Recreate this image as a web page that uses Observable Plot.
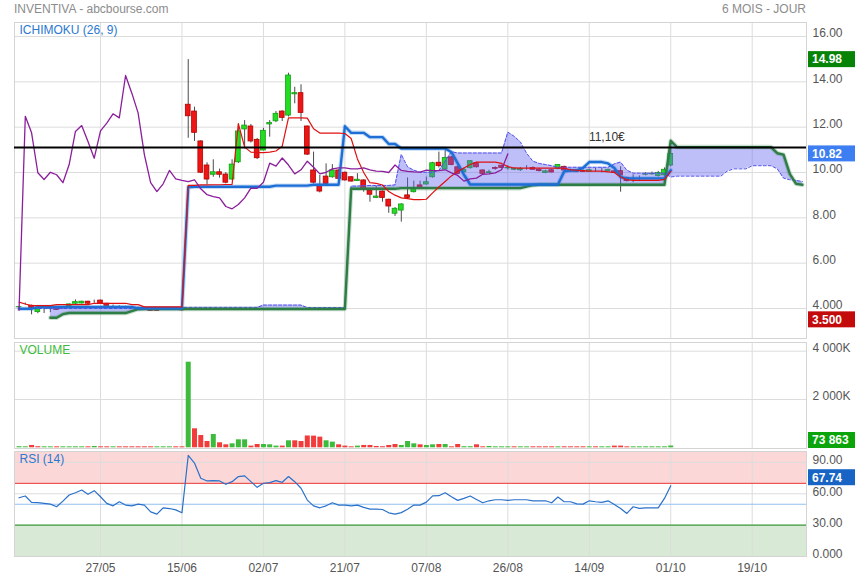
<!DOCTYPE html>
<html>
<head>
<meta charset="utf-8">
<script src="https://cdn.jsdelivr.net/npm/d3@7"></script>
<script src="https://cdn.jsdelivr.net/npm/@observablehq/plot@0.6"></script>
<style>
  html, body { margin: 0; padding: 0; background: #fff; }
  #chart { position: relative; width: 855px; height: 580px; overflow: hidden; font-family: Arial, "Liberation Sans", sans-serif; }
  .hdr { position: absolute; top: 2px; font-size: 12px; color: #8c8c8c; line-height: 14px; white-space: nowrap; }
</style>
</head>
<body>
<div id="chart"></div>
<script>
// ---------------- DATA ----------------
const titleText = "INVENTIVA - abcbourse.com";
const periodText = "6 MOIS - JOUR";

const xTickIdx = [13, 26, 39, 52, 65, 78, 91, 104, 117];
const xTickLabels = ["27/05", "15/06", "02/07", "21/07", "07/08", "26/08", "14/09", "01/10", "19/10"];

const priceTicks = [16, 14, 12, 10, 8, 6, 4];
const priceTickLabels = ["16.00", "14.00", "12.00", "10.00", "8.00", "6.00", "4.000"];
const volumeTicks = [4000, 2000];
const volumeTickLabels = ["4 000K", "2 000K"];
const rsiTicks = [90, 60, 30, 0];
const rsiTickLabels = ["90.00", "60.00", "30.00", "0.000"];

const open = [
  4.05,4.20,4.12,3.84,3.97,3.98,4.01,4.00,4.09,4.21,
  4.22,4.30,4.30,4.35,4.21,4.12,4.10,4.08,4.06,4.05,
  4.03,3.97,3.97,3.95,3.96,3.95,4.01,12.99,12.69,11.37,
  10.31,9.90,10.01,9.91,9.69,10.45,11.90,12.03,11.44,10.97,
  12.12,12.26,12.69,12.51,13.45,13.50,12.03,10.09,9.43,9.82,
  9.79,10.09,9.99,9.79,9.62,9.65,9.21,8.88,9.16,8.80,
  8.18,8.32,8.99,9.13,9.43,9.47,9.79,10.43,10.13,10.67,
  10.23,10.01,10.19,10.41,10.09,9.97,10.20,10.30,10.18,10.12,
  10.10,10.20,10.20,10.12,9.98,10.10,10.16,10.25,10.10,10.10,
  10.06,10.02,10.08,10.08,10.05,10.05,10.06,9.76,9.70,9.75,
  9.90,9.92,9.85,9.87,10.31];
const high = [
  4.10,4.24,4.15,4.00,4.02,4.03,4.03,4.02,4.20,4.38,
  4.32,4.32,4.37,4.37,4.23,4.15,4.12,4.10,4.08,4.07,
  4.05,3.99,3.99,3.97,3.98,3.97,4.03,14.98,12.88,11.40,
  10.43,10.56,10.15,10.00,10.56,12.15,12.29,12.12,11.50,11.95,
  12.29,12.69,12.72,14.38,13.76,13.87,12.05,10.90,9.87,10.38,
  10.35,10.12,10.02,9.82,9.95,9.68,9.25,9.40,9.18,8.82,
  8.45,8.62,9.76,9.62,9.62,9.80,10.45,10.90,10.97,10.70,
  10.28,10.20,10.52,10.45,10.12,10.10,10.25,10.32,10.30,10.20,
  10.22,10.30,10.25,10.18,10.10,10.15,10.35,10.28,10.15,10.12,
  10.12,10.15,10.18,10.20,10.15,10.10,10.25,9.80,9.90,9.85,
  10.00,10.02,10.05,10.20,11.05];
const low = [
  4.02,4.15,3.72,3.77,3.78,3.82,3.92,3.97,4.07,4.19,
  4.20,4.19,4.23,4.19,4.10,4.09,4.07,4.05,4.03,4.02,
  4.00,3.88,3.88,3.93,3.93,3.92,3.88,11.51,11.37,9.95,
  9.46,9.79,9.75,9.50,9.65,10.40,11.04,11.30,10.57,10.95,
  11.56,12.20,12.25,12.45,13.03,12.25,10.75,9.50,9.10,9.48,
  9.75,9.70,9.62,9.58,9.60,9.13,8.69,8.85,8.69,8.20,
  8.06,7.81,8.85,9.10,9.28,9.45,9.75,10.20,10.10,10.30,
  9.90,9.98,10.15,10.20,9.90,9.95,10.10,10.18,10.10,10.08,
  10.05,10.10,10.10,10.02,9.95,9.98,10.12,10.05,10.02,10.00,
  10.00,10.00,10.02,9.98,10.02,9.95,9.13,9.58,9.55,9.65,
  9.85,9.88,9.80,9.85,10.25];
const close = [
  4.06,4.20,4.03,3.97,3.97,3.99,3.94,4.00,4.18,4.28,
  4.30,4.21,4.30,4.21,4.12,4.12,4.10,4.08,4.06,4.05,
  4.03,3.90,3.90,3.95,3.96,3.95,3.92,12.48,11.75,9.99,
  9.69,10.01,9.90,9.55,10.35,11.81,12.07,11.37,10.63,11.84,
  12.18,12.59,12.41,14.28,13.50,12.63,10.79,9.55,9.16,9.50,
  10.09,9.72,9.65,9.60,9.68,9.28,9.02,8.94,8.88,8.50,
  8.40,8.59,8.88,9.31,9.30,9.57,10.41,10.28,10.64,10.33,
  9.94,10.12,10.50,10.23,9.94,10.01,10.16,10.20,10.20,10.16,
  10.16,10.20,10.12,10.06,10.05,10.00,10.33,10.09,10.05,10.03,
  10.02,10.10,10.08,10.08,10.12,9.98,9.87,9.62,9.72,9.75,
  9.92,9.94,9.98,10.12,10.82];

// volume in thousands of shares
const volumeK = [
  45,40,97,45,40,40,40,40,40,40,
  40,40,55,40,40,40,40,40,40,40,
  40,40,40,40,40,40,40,3545,787,510,
  262,550,207,124,165,331,331,70,137,137,
  124,70,70,290,290,262,490,483,441,290,
  235,124,70,40,70,97,97,55,45,97,
  137,97,262,165,124,97,124,137,137,40,
  137,45,45,124,40,55,40,40,40,40,
  40,40,40,40,40,40,40,40,40,40,
  40,40,40,40,40,70,70,40,40,40,
  40,40,40,40,73.863];

const rsi = [
  56.2,57.9,51.8,51.5,50.8,50.1,47.6,53.0,58.8,61.0,
  63.6,59.5,63.0,57.2,50.8,48.5,52.4,49.2,48.5,50.1,
  49.2,42.7,40.5,46.6,45.9,44.6,41.8,96.7,89.4,74.9,
  72.3,72.6,72.3,69.1,71.6,76.5,77.1,71.6,66.2,70.1,
  70.7,72.6,71.0,76.5,71.6,65.3,54.0,48.5,46.6,48.5,
  51.4,49.2,49.2,48.5,49.2,47.0,45.3,45.3,45.0,41.8,
  40.5,42.0,45.3,49.2,49.2,52.0,58.0,58.2,61.0,57.2,
  53.7,55.6,57.9,54.6,51.4,53.3,54.3,54.3,53.7,54.3,
  54.3,54.3,53.3,53.3,53.3,51.4,56.9,52.4,52.4,50.4,
  50.1,53.3,52.4,51.8,53.3,49.8,46.0,41.2,47.6,46.0,
  46.6,46.6,46.6,55.6,67.74];

// Ichimoku lines
const tenkan = [
  4.28,4.20,4.13,4.13,4.13,4.13,4.17,4.17,4.17,4.17,
  4.17,4.17,4.23,4.23,4.23,4.23,4.23,4.23,4.17,4.17,
  4.07,4.07,4.07,4.07,4.07,4.07,4.07,9.43,9.43,9.45,
  9.45,9.46,9.46,9.47,9.48,12.15,11.12,10.90,10.88,10.88,
  10.90,10.95,11.16,12.41,12.41,12.41,12.40,11.93,11.74,11.74,
  11.74,11.74,11.72,11.50,10.60,10.00,9.55,9.52,9.45,9.16,
  9.00,8.88,8.85,8.80,8.80,8.82,9.10,9.36,9.60,9.85,
  10.05,10.20,10.35,10.46,10.46,10.46,10.46,10.40,10.26,10.20,
  10.19,10.19,10.19,10.19,10.19,10.19,10.19,10.19,10.12,10.10,
  10.08,10.06,10.06,10.06,10.03,10.00,9.80,9.68,9.65,9.65,
  9.65,9.65,9.65,9.70,10.05];
const kijun = [
  3.99,3.99,3.99,4.07,4.07,4.07,4.07,4.07,4.07,4.07,
  4.07,4.07,4.07,4.07,4.07,4.07,4.07,4.07,4.07,4.01,
  4.01,4.01,4.01,4.01,4.01,4.01,4.01,9.35,9.37,9.37,
  9.37,9.37,9.37,9.37,9.37,9.37,9.37,9.37,9.37,9.37,
  9.37,9.42,9.42,9.42,9.42,9.42,9.42,9.46,9.46,9.46,
  9.46,9.46,12.04,11.75,11.75,11.75,11.56,11.56,11.56,11.26,
  11.26,11.06,11.06,11.06,11.06,11.06,11.06,11.06,11.06,10.90,
  10.40,9.90,9.47,9.47,9.47,9.47,9.47,9.47,9.47,9.47,
  9.47,9.47,9.47,9.47,9.47,9.47,9.47,10.05,10.09,10.09,
  10.20,10.46,10.46,10.46,10.40,10.20,9.80,9.74,9.74,9.74,
  9.74,9.74,9.74,9.74,10.10];
const senkouA = [
  4.00,4.00,4.00,4.00,4.00,4.00,4.00,4.00,4.00,4.00,
  4.00,4.00,4.00,4.00,4.00,4.00,4.00,4.00,4.00,4.05,
  4.05,4.05,4.05,4.05,4.05,4.05,4.05,4.05,4.05,4.05,
  4.05,4.05,4.05,4.05,4.05,4.05,4.05,4.05,4.05,4.15,
  4.15,4.15,4.15,4.15,4.15,4.15,4.04,4.04,4.04,4.04,
  4.04,4.04,4.04,9.40,9.40,9.42,9.43,9.43,9.43,9.43,
  9.45,10.80,10.25,10.10,10.01,10.01,10.01,10.09,10.50,10.92,
  10.86,10.86,10.86,10.86,10.86,10.86,10.86,10.86,11.78,11.60,
  11.35,10.85,10.50,10.40,10.35,10.30,10.23,10.23,10.23,10.23,
  10.23,10.23,10.23,10.23,10.23,10.38,10.46,10.10,9.97,9.97,
  9.97,9.97,9.97,9.97,9.80,9.84,9.84,9.84,9.84,9.84,
  9.84,9.84,9.84,10.06,10.16,10.16,10.16,10.30,10.30,10.30,
  10.30,10.16,9.75,9.68,9.65,9.60];
const senkouB = [
  null,null,null,null,null,3.59,3.59,3.75,3.80,3.80,
  3.80,3.80,3.80,3.80,3.80,3.80,3.80,3.80,3.88,3.97,
  3.98,3.98,3.98,3.98,3.98,3.98,3.98,3.98,3.98,3.98,
  3.98,3.98,3.98,3.98,3.98,3.98,3.98,3.98,3.98,3.98,
  3.98,3.98,3.98,3.98,3.98,3.98,3.98,3.98,3.98,3.98,
  3.98,3.98,3.98,9.28,9.28,9.28,9.28,9.28,9.28,9.28,
  9.28,9.31,9.31,9.31,9.31,9.31,9.31,9.31,9.31,9.31,
  9.31,9.31,9.31,9.31,9.31,9.31,9.31,9.31,9.31,9.31,
  9.31,9.38,9.44,9.46,9.46,9.46,9.46,9.46,9.46,9.46,
  9.46,9.46,9.46,9.46,9.46,9.46,9.46,9.46,9.46,9.46,
  9.46,9.46,9.46,9.46,11.40,11.12,11.12,11.12,11.12,11.12,
  11.12,11.12,11.12,11.12,11.12,11.12,11.12,11.12,11.12,11.12,
  11.12,10.85,10.79,9.94,9.50,9.46];
const chikouShift = 26;

const levelLines = [{value: 11.10, text: "11,10€", at: 93.8}];

const priceTags = [
  {value: 14.98, text: "14.98", bg: "#078307"},
  {value: 10.82, text: "10.82", bg: "#3d7ef2"},
  {value: 3.5, text: "3.500", bg: "#c30b0b"}];
const volumeTags = [{value: 73.863, text: "73 863", bg: "#0ba50b"}];
const rsiTags = [{value: 67.74, text: "67.74", bg: "#1764c4", dy: -8}];

const rsiZones = [
  {from: 70, to: 100, fill: "#fcd7d7"},
  {from: 0, to: 30, fill: "#d8ead5"}];
const rsiLevels = [
  {v: 70, stroke: "#f05555"},
  {v: 50, stroke: "#93c0ee"},
  {v: 30, stroke: "#3f993f"}];

// ---------------- RENDER ----------------
const chart = document.getElementById("chart");
const FONT = 'Arial, "Liberation Sans", sans-serif';
const hdrL = document.createElement("div"); hdrL.className = "hdr"; hdrL.style.left = "14px"; hdrL.textContent = titleText; chart.appendChild(hdrL);
const hdrR = document.createElement("div"); hdrR.className = "hdr"; hdrR.style.right = "49px"; hdrR.textContent = periodText; chart.appendChild(hdrR);

const X = {domain: [0, 117], range: [18.54, 751.7]};
const GRID = "#dcdcdc";
const GREEN = "#3dbb3d", RED = "#f23c3c";

const rows = arr => arr.map((v, i) => ({i, v})).filter(d => d.v != null);
const candles = open.map((o, i) => ({i, open: o, high: high[i], low: low[i], close: close[i]}));
const cloudRows = senkouA.map((a, i) => ({i, a, b: senkouB[i]})).filter(d => d.a != null && d.b != null);
const chikouRows = close.map((c, i) => ({i: i - chikouShift, v: c})).filter(d => d.i >= 0);
const volRows = volumeK.map((v, i) => ({i, v, up: i === 0 || close[i] >= close[i - 1]}));
const mapOf = (t, l) => new Map(t.map((d, k) => [d, l[k]]));
const priceLab = mapOf(priceTicks, priceTickLabels);
const volLab = mapOf(volumeTicks, volumeTickLabels);
const rsiLab = mapOf(rsiTicks, rsiTickLabels);
const xLab = mapOf(xTickIdx, xTickLabels);

function panel({top, height, marginTop, marginBottom, y, marks}) {
  const svg = Plot.plot({
    width: 855, height, marginTop, marginBottom, marginLeft: 14, marginRight: 49,
    x: {...X, axis: null},
    y: {...y, axis: null},
    color: {type: "identity"},
    style: `position:absolute;left:0;top:${top}px;overflow:visible;background:transparent;font-family:${FONT};`,
    marks
  });
  chart.appendChild(svg);
  return svg;
}
function addTags(svg, tags, maxCenter) {
  const sy = svg.scale("y");
  const g = d3.select(svg).append("g").attr("text-anchor", "start");
  for (const t of tags) {
    let yc = sy.apply(t.value) + (t.dy || 0);
    if (maxCenter != null) yc = Math.min(yc, maxCenter);
    g.append("rect").attr("x", 808).attr("y", yc - 8).attr("width", 47).attr("height", 16).attr("fill", t.bg);
    g.append("text").attr("x", 812).attr("y", yc).attr("dy", "0.36em").attr("fill", "#fff")
      .attr("text-anchor", "start")
      .attr("font-size", 12).attr("font-weight", "bold").attr("font-family", FONT).text(t.text);
  }
}
const panelLabel = (txt, color) => Plot.text([txt], {text: d => d, frameAnchor: "top-left", textAnchor: "start", lineAnchor: "middle", dx: 5, dy: 8, fill: color, fontSize: 12});

// Price / Ichimoku panel
const p1 = panel({
  top: 0, height: 340, marginTop: 22, marginBottom: 2,
  y: {domain: [4, 16], range: [308, 36]},
  marks: [
    Plot.ruleX(xTickIdx, {stroke: GRID}),
    Plot.ruleY(priceTicks, {stroke: GRID}),
    Plot.frame({stroke: "#d4d4d4"}),
    Plot.ruleX(candles, {x: "i", y1: "low", y2: "high", stroke: "#4a4a4a", strokeWidth: 1}),
    Plot.rect(candles, {x1: d => d.i - 0.38, x2: d => d.i + 0.38, y1: "open", y2: "close",
      fill: d => d.close >= d.open ? "#22dd22" : "#ee1515",
      stroke: d => d.close >= d.open ? "#139c13" : "#b00000", strokeWidth: 0.8}),
    Plot.areaY(cloudRows, {x: "i", y1: "a", y2: "b", fill: "#6464ee", fillOpacity: 0.42}),
    Plot.line(rows(senkouA), {x: "i", y: "v", stroke: "#5050f0", strokeWidth: 1, strokeDasharray: "3,2"}),
    Plot.line(rows(senkouB), {x: "i", y: "v", stroke: "#2d7d45", strokeWidth: 4.5, strokeOpacity: 0.25}),
    Plot.line(rows(senkouB), {x: "i", y: "v", stroke: "#2d7d45", strokeWidth: 2.4}),
    Plot.line(rows(kijun), {x: "i", y: "v", stroke: "#1d6fd6", strokeWidth: 4.5, strokeOpacity: 0.25}),
    Plot.line(rows(kijun), {x: "i", y: "v", stroke: "#1d6fd6", strokeWidth: 2.4}),
    Plot.line(rows(tenkan), {x: "i", y: "v", stroke: "#e01010", strokeWidth: 1.2}),
    Plot.line(chikouRows, {x: "i", y: "v", stroke: "#8b1e9c", strokeWidth: 1.3}),
    Plot.ruleY(levelLines, {y: "value", stroke: "#000", strokeWidth: 2}),
    Plot.text(levelLines, {x: "at", y: "value", text: "text", dy: -10, fill: "#333", fontSize: 12}),
    Plot.axisY({anchor: "right", ticks: priceTicks, tickFormat: d => priceLab.get(d), tickSize: 0, tickPadding: 6, dy: -3, label: null, fontSize: 12, color: "#555"}),
    panelLabel("ICHIMOKU (26, 9)", "#2a78d0")
  ]
});
addTags(p1, priceTags);

// Volume panel
const p2 = panel({
  top: 340, height: 109, marginTop: 2, marginBottom: 1,
  y: {domain: [0, 4000], range: [107.3, 10.7]},
  marks: [
    Plot.ruleX(xTickIdx, {stroke: GRID}),
    Plot.ruleY(volumeTicks, {stroke: GRID}),
    Plot.frame({stroke: "#d4d4d4"}),
    Plot.ruleX(volRows, {x: "i", y1: 0, y2: "v", stroke: d => d.up ? GREEN : RED, strokeWidth: 5}),
    Plot.axisY({anchor: "right", ticks: volumeTicks, tickFormat: d => volLab.get(d), tickSize: 0, tickPadding: 6, dy: -3, label: null, fontSize: 12, color: "#555"}),
    panelLabel("VOLUME", "#3dbb3d")
  ]
});
addTags(p2, volumeTags, 100);

// RSI panel
const p3 = panel({
  top: 449, height: 131, marginTop: 2, marginBottom: 24,
  y: {domain: [0, 100], range: [107, 2.5]},
  marks: [
    Plot.rect(rsiZones, {y1: "from", y2: "to", fill: "fill"}),
    Plot.ruleX(xTickIdx, {stroke: GRID}),
    Plot.ruleY([90, 60], {stroke: GRID}),
    Plot.ruleY(rsiLevels, {y: "v", stroke: "stroke", strokeWidth: 1.2}),
    Plot.frame({stroke: "#d4d4d4"}),
    Plot.line(rows(rsi), {x: "i", y: "v", stroke: "#2b71c9", strokeWidth: 1.2}),
    Plot.axisY({anchor: "right", ticks: rsiTicks, tickFormat: d => rsiLab.get(d), tickSize: 0, tickPadding: 6, dy: -2, label: null, fontSize: 12, color: "#555"}),
    Plot.axisX({anchor: "bottom", ticks: xTickIdx, tickFormat: d => xLab.get(d), tickSize: 0, tickPadding: 7, label: null, fontSize: 12, color: "#555"}),
    panelLabel("RSI (14)", "#2a78d0")
  ]
});
addTags(p3, rsiTags);
</script>
</body>
</html>
